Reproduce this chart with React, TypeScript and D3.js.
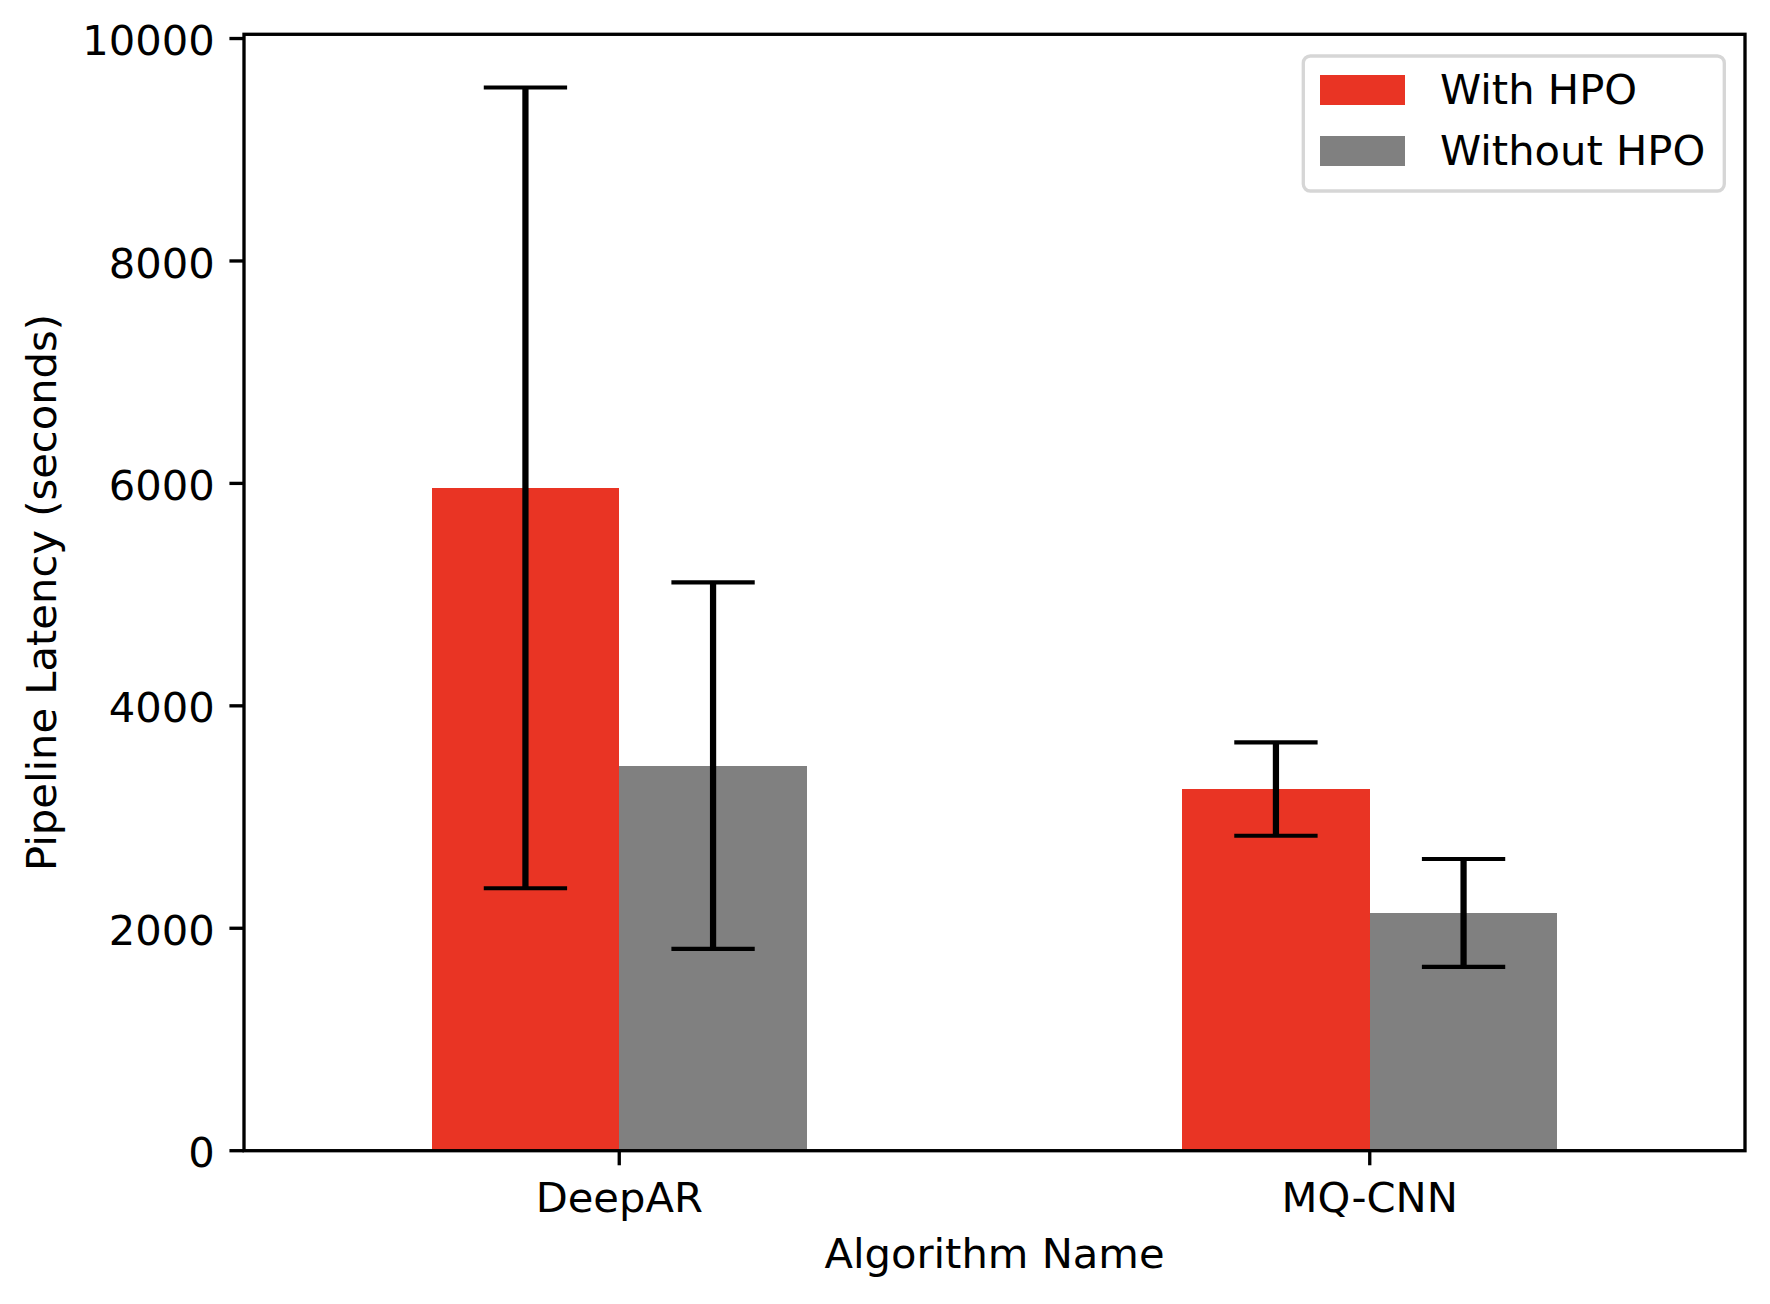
import * as d3 from "d3"

// values
const categories: string[] = ["DeepAR", "MQ-CNN"]
const seriesNames: string[] = ["With HPO", "Without HPO"]
const withHPO: number[] = [5960, 3252]
const withHPOErr: number[] = [3600, 420]
const withoutHPO: number[] = [3462, 2138]
const withoutHPOErr: number[] = [1648, 485]
const yTicks: number[] = [0, 2000, 4000, 6000, 8000, 10000]
const colors: string[] = ["#e93424", "#808080"]

const WIDTH = 1770
const HEIGHT = 1304
const FONT = "'DejaVu Sans', sans-serif"
const FS = 41.67 // 10pt at 300dpi
const PT = 300 / 72

const margin = { left: 244, right: 1745, top: 34.3, bottom: 1150.7 }

export default function App() {
    const means = [withHPO, withoutHPO]
    const errs = [withHPOErr, withoutHPOErr]
    const yMax = d3.max(means.flatMap((m, s) => m.map((v, i) => v + errs[s][i]))) as number

    const y = d3.scaleLinear().domain([0, yMax * 1.05]).range([margin.bottom, margin.top])
    const x = d3.scaleBand<string>().domain(categories).range([margin.left, margin.right]).padding(0)
    const bw = x.bandwidth()
    const inner = d3.scaleBand<string>().domain(seriesNames).range([-bw * 0.25, bw * 0.25]).padding(0)

    const tickLen = 3.5 * PT
    const tickPad = 3.5 * PT
    const capHalf = 10 * PT

    return (
        <svg width={WIDTH} height={HEIGHT} style={{ position: "absolute", left: 0, top: 0, background: "#fff" }}
            fontFamily={FONT}>
            <rect x={0} y={0} width={WIDTH} height={HEIGHT} fill="#fff" />

            {/* bars */}
            {seriesNames.map((s, si) => (
                <g key={s} shapeRendering="crispEdges">
                    {categories.map((c, ci) => (
                        <rect key={c}
                            x={(x(c) as number) + bw / 2 + (inner(s) as number)}
                            y={y(means[si][ci])}
                            width={inner.bandwidth()}
                            height={y(0) - y(means[si][ci])}
                            fill={colors[si]} />
                    ))}
                </g>
            ))}

            {/* error bars */}
            {seriesNames.map((s, si) => (
                <g key={s + "-err"} stroke="#000">
                    {categories.map((c, ci) => {
                        const cx = (x(c) as number) + bw / 2 + (inner(s) as number) + inner.bandwidth() / 2
                        const hi = y(means[si][ci] + errs[si][ci])
                        const lo = y(means[si][ci] - errs[si][ci])
                        return (
                            <g key={c}>
                                <line x1={cx} x2={cx} y1={hi} y2={lo} strokeWidth={1.5 * PT} />
                                <line x1={cx - capHalf} x2={cx + capHalf} y1={hi} y2={hi} strokeWidth={1 * PT} />
                                <line x1={cx - capHalf} x2={cx + capHalf} y1={lo} y2={lo} strokeWidth={1 * PT} />
                            </g>
                        )
                    })}
                </g>
            ))}

            {/* frame */}
            <rect x={margin.left} y={margin.top} width={margin.right - margin.left} height={margin.bottom - margin.top}
                fill="none" stroke="#000" strokeWidth={0.8 * PT} />

            {/* y axis */}
            {yTicks.map((t) => (
                <g key={t}>
                    <line x1={margin.left - tickLen} x2={margin.left} y1={y(t)} y2={y(t)} stroke="#000" strokeWidth={0.8 * PT} />
                    <text x={margin.left - tickLen - tickPad} y={y(t) + 0.4 * FS} textAnchor="end" fontSize={FS}>
                        {d3.format("d")(t)}
                    </text>
                </g>
            ))}

            {/* x axis */}
            {categories.map((c) => {
                const cx = (x(c) as number) + bw / 2
                return (
                    <g key={c}>
                        <line x1={cx} x2={cx} y1={margin.bottom} y2={margin.bottom + tickLen} stroke="#000" strokeWidth={0.8 * PT} />
                        <text x={cx} y={1212} textAnchor="middle" fontSize={FS}>{c}</text>
                    </g>
                )
            })}

            <text x={(margin.left + margin.right) / 2} y={1268.3} textAnchor="middle" fontSize={FS}>Algorithm Name</text>
            <text transform={`translate(55.7, ${(margin.top + margin.bottom) / 2}) rotate(-90)`} textAnchor="middle" fontSize={FS}>
                Pipeline Latency (seconds)
            </text>

            {/* legend */}
            <g>
                <rect x={1303.3} y={56} width={421} height={135} rx={7} fill="#fff" fillOpacity={0.8}
                    stroke="#d6d6d6" strokeWidth={0.8 * PT} />
                {seriesNames.map((s, si) => (
                    <g key={s} transform={`translate(0, ${si * 61})`}>
                        <rect x={1320} y={75} width={85} height={30} fill={colors[si]} />
                        <text x={1440} y={104.3} fontSize={FS}>{s}</text>
                    </g>
                ))}
            </g>
        </svg>
    )
}
